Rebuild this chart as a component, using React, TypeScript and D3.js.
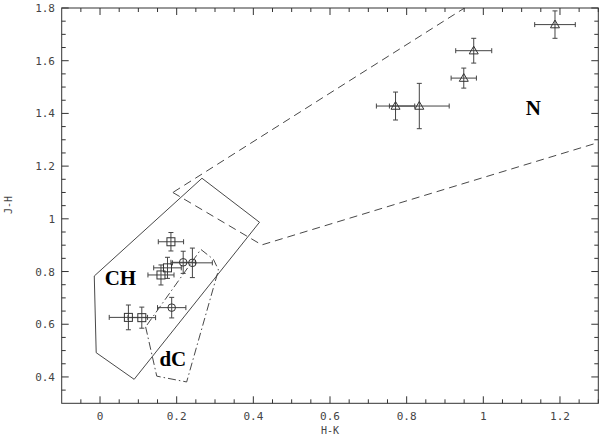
import React from 'react';
import * as d3 from 'd3';

const W = 600;
const H = 440;

const xDomain = [-0.1, 1.3];
const yDomain = [0.3, 1.8];
const xTickValues = [0, 0.2, 0.4, 0.6, 0.8, 1.0, 1.2];
const xTickLabels = ['0', '0.2', '0.4', '0.6', '0.8', '1', '1.2'];
const yTickValues = [0.4, 0.6, 0.8, 1.0, 1.2, 1.4, 1.6, 1.8];
const yTickLabels = ['0.4', '0.6', '0.8', '1', '1.2', '1.4', '1.6', '1.8'];

// N-type stars (triangles)
const nX = [0.771, 0.833, 0.949, 0.975, 1.187];
const nY = [1.428, 1.428, 1.534, 1.638, 1.737];
const nXErr = [0.05, 0.078, 0.033, 0.047, 0.053];
const nYErr = [0.053, 0.086, 0.038, 0.047, 0.052];

// CH-type stars (squares)
const chX = [0.185, 0.176, 0.159, 0.074, 0.109];
const chY = [0.913, 0.814, 0.787, 0.626, 0.625];
const chXErr = [0.033, 0.036, 0.034, 0.05, 0.036];
const chYErr = [0.035, 0.04, 0.038, 0.047, 0.04];

// dC stars (circles)
const dcX = [0.217, 0.241, 0.187];
const dcY = [0.835, 0.833, 0.663];
const dcXErr = [0.032, 0.052, 0.037];
const dcYErr = [0.042, 0.056, 0.039];

// Region outlines
const chRegion: [number, number][] = [
  [-0.015, 0.783], [-0.01, 0.492], [0.089, 0.391], [0.416, 0.987], [0.266, 1.154],
];
const dcRegion: [number, number][] = [
  [0.119, 0.59], [0.148, 0.403], [0.226, 0.381], [0.309, 0.806], [0.296, 0.846], [0.263, 0.884],
];
const nRegion: [number, number][] = [
  [0.19, 1.1], [0.422, 0.901], [1.5, 1.378], [1.5, 2.305],
];

const regionLabels = [
  { text: 'CH', x: 0.012, y: 0.748 },
  { text: 'dC', x: 0.155, y: 0.44 },
  { text: 'N', x: 1.111, y: 1.394 },
];

export default function App() {
  const x = d3.scaleLinear().domain(xDomain).range([61.7, 598.3]);
  const y = d3.scaleLinear().domain(yDomain).range([403.3, 8]);
  const x0 = x(xDomain[0]), x1 = x(xDomain[1]);
  const y0 = y(yDomain[0]), y1 = y(yDomain[1]);

  const line = d3.line<[number, number]>().x(d => x(d[0])).y(d => y(d[1])).curve(d3.curveLinearClosed);

  const minorX = d3.range(-0.05, 1.3001, 0.05).filter(v => !xTickValues.some(t => Math.abs(t - v) < 1e-6));
  const minorY = d3.range(0.35, 1.8001, 0.05).filter(v => !yTickValues.some(t => Math.abs(t - v) < 1e-6));

  const stroke = '#333';
  const ebColor = '#444';

  const errBars = (xs: number[], ys: number[], xe: number[], ye: number[], key: string) =>
    xs.map((xv, i) => {
      const cx = x(xv), cy = y(ys[i]);
      const xl = x(xv - xe[i]), xr = x(xv + xe[i]);
      const yt = y(ys[i] + ye[i]), yb = y(ys[i] - ye[i]);
      const c = 2.5;
      return (
        <g key={key + i} stroke={ebColor} strokeWidth={1} fill="none">
          <line x1={xl} x2={xr} y1={cy} y2={cy} />
          <line x1={cx} x2={cx} y1={yt} y2={yb} />
          <line x1={xl} x2={xl} y1={cy - c} y2={cy + c} />
          <line x1={xr} x2={xr} y1={cy - c} y2={cy + c} />
          <line x1={cx - c} x2={cx + c} y1={yt} y2={yt} />
          <line x1={cx - c} x2={cx + c} y1={yb} y2={yb} />
        </g>
      );
    });

  return (
    <svg width={W} height={H} style={{ position: 'absolute', left: 0, top: 0, background: '#fff' }}
      fontFamily="'DejaVu Sans Mono', monospace">
      <defs>
        <clipPath id="plotclip">
          <rect x={x0} y={y1} width={x1 - x0} height={y0 - y1} />
        </clipPath>
      </defs>
      <rect x={0} y={0} width={W} height={H} fill="#fff" />

      {/* regions */}
      <g clipPath="url(#plotclip)" fill="none" stroke={stroke} strokeWidth={0.9}>
        <path d={line(chRegion) || ''} />
        <path d={line(dcRegion) || ''} strokeDasharray="8 3 1.5 3" />
        <path d={line(nRegion) || ''} strokeDasharray="8 5" />
      </g>

      {/* error bars */}
      {errBars(nX, nY, nXErr, nYErr, 'n')}
      {errBars(chX, chY, chXErr, chYErr, 'ch')}
      {errBars(dcX, dcY, dcXErr, dcYErr, 'dc')}

      {/* markers */}
      <g fill="none" stroke={stroke} strokeWidth={1}>
        {nX.map((xv, i) => {
          const cx = x(xv), cy = y(nY[i]);
          return <path key={'tn' + i} d={`M${cx},${cy - 4.5}L${cx + 4.5},${cy + 3.2}L${cx - 4.5},${cy + 3.2}Z`} />;
        })}
        {chX.map((xv, i) => (
          <rect key={'sq' + i} x={x(xv) - 4} y={y(chY[i]) - 4} width={8} height={8} />
        ))}
        {dcX.map((xv, i) => (
          <circle key={'ci' + i} cx={x(xv)} cy={y(dcY[i])} r={3.8} />
        ))}
      </g>

      {/* region labels */}
      {regionLabels.map(l => (
        <text key={l.text} x={x(l.x)} y={y(l.y)} fontFamily="'Liberation Serif', 'Times New Roman', serif"
          fontWeight="bold" fontSize={21} fill="#000">{l.text}</text>
      ))}

      {/* frame */}
      <rect x={x0} y={y1} width={x1 - x0} height={y0 - y1} fill="none" stroke={stroke} strokeWidth={1} />

      {/* ticks */}
      <g stroke={stroke} strokeWidth={1}>
        {xTickValues.map(v => (
          <g key={'xt' + v}>
            <line x1={x(v)} x2={x(v)} y1={y0} y2={y0 - 7} />
            <line x1={x(v)} x2={x(v)} y1={y1} y2={y1 + 7} />
          </g>
        ))}
        {minorX.map(v => (
          <g key={'xm' + v}>
            <line x1={x(v)} x2={x(v)} y1={y0} y2={y0 - 4} />
            <line x1={x(v)} x2={x(v)} y1={y1} y2={y1 + 4} />
          </g>
        ))}
        {yTickValues.map(v => (
          <g key={'yt' + v}>
            <line x1={x0} x2={x0 + 7} y1={y(v)} y2={y(v)} />
            <line x1={x1} x2={x1 - 7} y1={y(v)} y2={y(v)} />
          </g>
        ))}
        {minorY.map(v => (
          <g key={'ym' + v}>
            <line x1={x0} x2={x0 + 4} y1={y(v)} y2={y(v)} />
            <line x1={x1} x2={x1 - 4} y1={y(v)} y2={y(v)} />
          </g>
        ))}
      </g>

      {/* tick labels */}
      <g fill="#444" fontSize={11}>
        {xTickValues.map((v, i) => (
          <text key={'xl' + i} x={x(v)} y={420} textAnchor="middle">{xTickLabels[i]}</text>
        ))}
        {yTickValues.map((v, i) => (
          <text key={'yl' + i} x={55} y={y(v) + 4} textAnchor="end">{yTickLabels[i]}</text>
        ))}
        <text x={330} y={434} textAnchor="middle" fontSize={10}>H-K</text>
        <text transform={`translate(12,${205}) rotate(-90)`} textAnchor="middle" fontSize={10}>J-H</text>
      </g>
    </svg>
  );
}
